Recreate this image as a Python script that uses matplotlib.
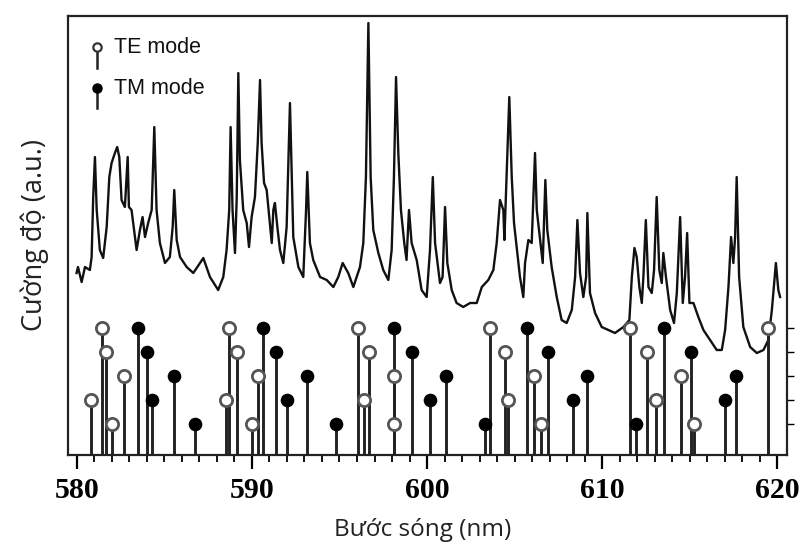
import numpy as np
import matplotlib
matplotlib.use("Agg")
import matplotlib.pyplot as plt
from matplotlib.ticker import MultipleLocator

# spectrum (wavelength nm, intensity a.u.)
wl = [579.98, 580.06, 580.27, 580.46, 580.74, 580.84, 580.93, 581.03, 581.13, 581.31,
      581.50, 581.70, 581.85, 581.98, 582.17, 582.30, 582.42, 582.55, 582.74, 582.90,
      582.97, 583.12, 583.41, 583.60, 583.75, 583.89, 584.07, 584.27, 584.42, 584.55,
      584.74, 585.03, 585.31, 585.47, 585.56, 585.70, 585.89, 586.27, 586.65, 587.03,
      587.22, 587.60, 588.07, 588.36, 588.55, 588.70, 588.78, 588.89, 589.03, 589.13,
      589.22, 589.31, 589.50, 589.70, 589.83, 589.98, 590.17, 590.33, 590.46, 590.55,
      590.69, 590.84, 590.99, 591.13, 591.22, 591.31, 591.45, 591.60, 591.79, 591.98,
      592.17, 592.36, 592.65, 592.93, 593.09, 593.16, 593.31, 593.50, 593.89, 594.27,
      594.65, 594.93, 595.18, 595.50, 595.79, 596.17, 596.36, 596.51, 596.65, 596.78,
      596.93, 597.22, 597.50, 597.79, 597.98, 598.11, 598.23, 598.36, 598.51, 598.70,
      598.83, 598.97, 599.12, 599.41, 599.69, 599.98, 600.17, 600.33, 600.46, 600.74,
      600.89, 601.03, 601.16, 601.41, 601.69, 602.07, 602.46, 602.84, 603.13, 603.50,
      603.79, 603.98, 604.17, 604.36, 604.42, 604.55, 604.70, 604.84, 604.97, 605.31,
      605.50, 605.60, 605.79, 605.98, 606.17, 606.27, 606.46, 606.61, 606.76, 606.87,
      607.12, 607.41, 607.69, 607.98, 608.27, 608.46, 608.59, 608.74, 608.93, 609.09,
      609.16, 609.31, 609.60, 609.98, 610.36, 610.74, 611.22, 611.56, 611.70, 611.85,
      611.98, 612.13, 612.27, 612.36, 612.50, 612.65, 612.84, 612.97, 613.12, 613.27,
      613.41, 613.50, 613.65, 613.89, 614.11, 614.27, 614.46, 614.61, 614.74, 614.86,
      614.99, 615.22, 615.50, 615.79, 616.17, 616.55, 616.84, 617.03, 617.22, 617.37,
      617.50, 617.60, 617.69, 617.83, 618.07, 618.46, 618.84, 619.22, 619.50, 619.70,
      619.93, 620.07, 620.17]
inten = [182, 188, 173, 188, 185, 198, 258, 298, 245, 205,
         197, 228, 278, 292, 302, 308, 298, 255, 248, 298,
         248, 245, 205, 225, 238, 218, 232, 245, 328, 245,
         212, 192, 198, 228, 265, 215, 198, 188, 182, 192,
         197, 178, 165, 178, 205, 245, 328, 245, 202, 258,
         382, 295, 245, 232, 208, 238, 258, 312, 375, 312,
         272, 265, 238, 212, 245, 252, 228, 205, 192, 228,
         352, 218, 188, 178, 245, 283, 212, 195, 178, 175,
         168, 178, 192, 182, 168, 188, 212, 278, 432, 278,
         225, 202, 185, 175, 205, 278, 378, 302, 245, 212,
         195, 245, 212, 195, 165, 158, 205, 278, 212, 172,
         178, 248, 192, 165, 152, 148, 152, 152, 168, 175,
         185, 212, 255, 245, 215, 282, 358, 278, 232, 178,
         158, 192, 215, 212, 302, 245, 215, 192, 275, 225,
         188, 158, 135, 132, 145, 178, 235, 182, 158, 178,
         242, 162, 142, 128, 125, 122, 128, 135, 178, 207,
         198, 168, 152, 178, 235, 168, 162, 185, 258, 185,
         172, 202, 178, 145, 132, 162, 238, 152, 178, 222,
         152, 152, 138, 125, 115, 105, 105, 125, 168, 218,
         192, 218, 278, 178, 128, 108, 102, 105, 115, 145,
         192, 165, 158]

# mode positions (nm) and stem heights (a.u.)
te_wl = [581.45, 581.64, 582.70, 580.80, 582.00,
         588.70, 589.13, 590.36, 588.50, 589.98,
         596.07, 596.69, 598.11, 596.42, 598.11,
         603.60, 604.47, 606.13, 604.60, 606.50,
         611.60, 612.55, 614.51, 613.07, 615.27,
         619.50]
te_h = [127, 103, 79, 55, 31,
        127, 103, 79, 55, 31,
        127, 103, 79, 55, 31,
        127, 103, 79, 55, 31,
        127, 103, 79, 55, 31,
        127]
tm_wl = [583.47, 584.00, 585.56, 584.29, 586.74,
         590.65, 591.40, 593.16, 592.00, 594.80,
         598.11, 599.12, 601.09, 600.17, 603.31,
         605.70, 606.90, 609.16, 608.36, 611.93,
         613.56, 615.07, 617.64, 617.03]
tm_h = [127, 103, 79, 55, 31,
        127, 103, 79, 55, 31,
        127, 103, 79, 55, 31,
        127, 103, 79, 55, 31,
        127, 103, 79, 55]
levels = [127, 103, 79, 55, 31]

fig = plt.figure(figsize=(7.99, 5.47), dpi=100)
ax = fig.add_axes([0.0851, 0.1682, 0.900, 0.8025])

ax.plot(wl, inten, color="#111111", lw=1.7)

stem_c = "#222222"
ax.vlines(te_wl, 0, te_h, color=stem_c, lw=2.1)
ax.vlines(tm_wl, 0, tm_h, color=stem_c, lw=2.1)
ax.plot(te_wl, te_h, "o", ms=8.8, mfc="white", mec="#555555", mew=2.0, ls="none")
ax.plot(tm_wl, tm_h, "o", ms=8.8, mfc="black", mec="black", ls="none")

ax.set_xlim(579.49, 620.57)
ax.set_ylim(0, 439)

ax.xaxis.set_major_locator(MultipleLocator(10))
ax.xaxis.set_minor_locator(MultipleLocator(1))
ax.tick_params(axis="x", which="major", direction="out", length=10, width=1.6, pad=6)
ax.tick_params(axis="x", which="minor", direction="out", length=5, width=1.3)
for lab in ax.get_xticklabels():
    lab.set_fontfamily("Liberation Serif")
    lab.set_fontweight("bold")
    lab.set_fontsize(21.5)

ax.yaxis.tick_right()
ax.set_yticks(levels)
ax.set_yticklabels([])
ax.tick_params(axis="y", direction="out", length=5, width=1.0)

for s in ax.spines.values():
    s.set_linewidth(1.6)
    s.set_color("#222222")

# legend drawn by hand
tr = ax.transAxes
ax.plot([0.0403, 0.0403], [0.881, 0.929], color=stem_c, lw=1.8, transform=tr)
ax.plot([0.0403], [0.929], "o", ms=6, mfc="white", mec="#333333", mew=1.6, transform=tr)
ax.plot([0.0403, 0.0403], [0.790, 0.836], color=stem_c, lw=1.8, transform=tr)
ax.plot([0.0403], [0.836], "o", ms=6.5, mfc="black", mec="black", transform=tr)
ax.text(0.064, 0.929, "TE mode", transform=tr, va="center", ha="left",
        fontsize=15.5, family="Liberation Sans", color="#111111")
ax.text(0.064, 0.836, "TM mode", transform=tr, va="center", ha="left",
        fontsize=15.5, family="Liberation Sans", color="#111111")

fig.text(423 / 799, 1 - 530 / 547, "Bước sóng (nm)", ha="center", va="center",
         fontsize=17.5, family=["Open Sans", "DejaVu Sans"], color="#222222")
fig.text(35 / 799, 1 - 235 / 547, "Cường độ (a.u.)", ha="center", va="center",
         rotation=90, fontsize=19.5, family=["Open Sans", "DejaVu Sans"], color="#222222")

fig.savefig("out.png", dpi=100)
